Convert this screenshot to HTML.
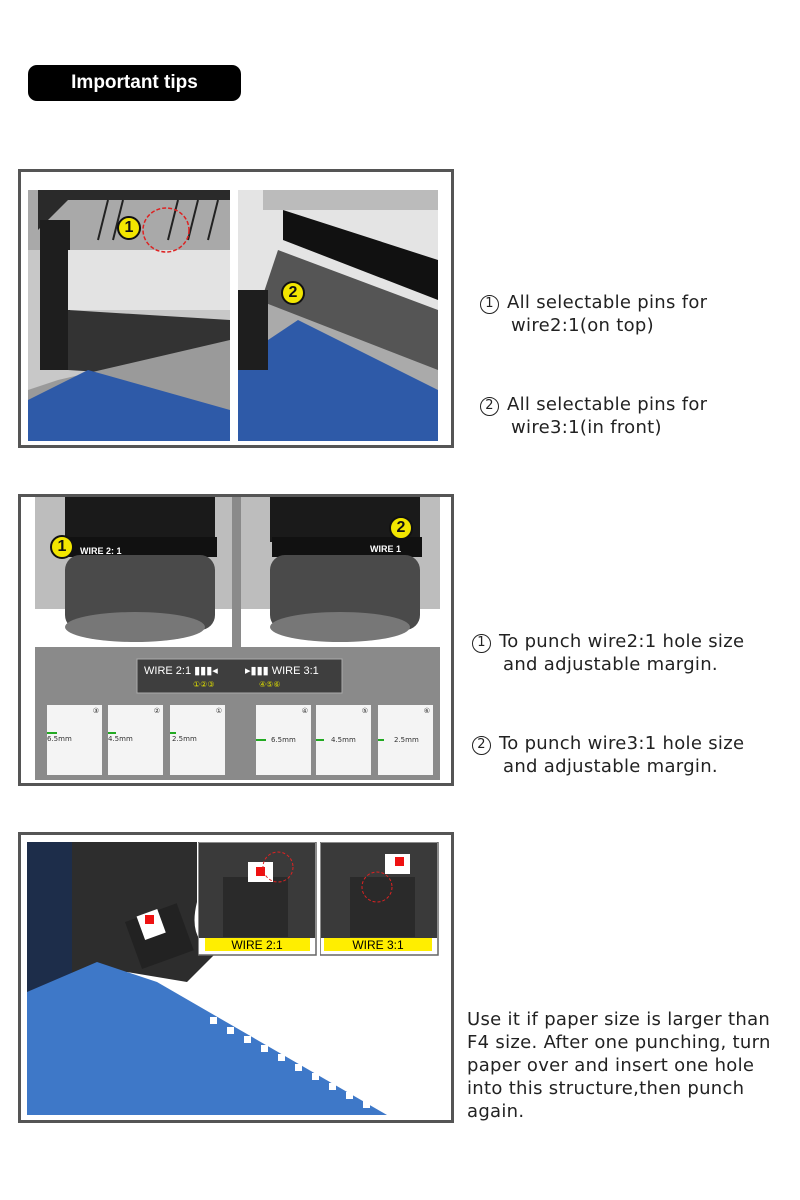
<!DOCTYPE html>
<html><head><meta charset="utf-8"><style>
*{margin:0;padding:0;box-sizing:border-box}
body{width:800px;height:1200px;background:#fff;position:relative;overflow:hidden;font-family:"DejaVu Sans","Liberation Sans",sans-serif}
.a{position:absolute}
.frame{position:absolute;border:3px solid #555;background:#fff}
.txt{position:absolute;font-size:18px;color:#222;line-height:23px;letter-spacing:0.3px;white-space:nowrap}
.num{display:inline-block;width:19px;height:19px;border:1.5px solid #222;border-radius:50%;font-size:13px;line-height:16px;text-align:center;margin-right:8px;vertical-align:1px}
.badge{position:absolute;width:24px;height:24px;border-radius:50%;background:#f2e600;border:2px solid #111;font:bold 16px "Liberation Sans",sans-serif;text-align:center;line-height:20px;color:#111}
.card{position:absolute;background:#f4f4f4;width:55px;height:70px;top:705px;font-size:7px;color:#333}
</style></head><body>

<div class="a" style="left:28px;top:65px;width:213px;height:36px;background:#000;border-radius:9px;color:#fff;font:bold 19px 'Liberation Sans',sans-serif;text-align:center;line-height:36px">Important tips</div>

<!-- Box 1 -->
<div class="frame" style="left:18px;top:169px;width:436px;height:279px"></div>
<svg class="a" style="left:28px;top:190px" width="202" height="251">
<rect width="202" height="251" fill="#c8c8c8"/>
<rect x="0" y="0" width="202" height="60" fill="#a9a9a9"/>
<path d="M10 40 L40 10 L202 10 L202 0 L10 0Z" fill="#2a2a2a"/>
<rect x="12" y="30" width="30" height="150" fill="#1e1e1e"/>
<rect x="40" y="60" width="162" height="60" fill="#e3e3e3"/>
<path d="M40 120 L202 130 L202 190 L40 180Z" fill="#333"/>
<path d="M30 190 L202 150 L202 251 L0 251 L0 200Z" fill="#9a9a9a"/>
<path d="M0 210 L60 180 L202 220 L202 251 L0 251Z" fill="#2e5aa8"/>
<g stroke="#222" stroke-width="2">
<line x1="80" y1="10" x2="70" y2="50"/><line x1="95" y1="10" x2="85" y2="50"/><line x1="150" y1="10" x2="140" y2="50"/><line x1="170" y1="10" x2="160" y2="50"/><line x1="190" y1="10" x2="180" y2="50"/></g>
<ellipse cx="138" cy="40" rx="23" ry="22" fill="none" stroke="#d22" stroke-width="1.5" stroke-dasharray="4 2"/>
</svg>
<div class="badge" style="left:117px;top:216px">1</div>
<svg class="a" style="left:238px;top:190px" width="200" height="251">
<rect width="200" height="251" fill="#e4e4e4"/>
<rect x="25" y="0" width="175" height="20" fill="#bbb"/>
<path d="M45 20 L200 70 L200 110 L45 50Z" fill="#111"/>
<path d="M40 60 L200 120 L200 200 L20 120Z" fill="#555"/>
<path d="M20 110 L200 180 L200 251 L0 251 L0 150Z" fill="#aaa"/>
<path d="M0 170 L60 130 L200 200 L200 251 L0 251Z" fill="#2e5aa8"/>
<rect x="0" y="100" width="30" height="80" fill="#1e1e1e"/>
</svg>
<div class="badge" style="left:281px;top:281px">2</div>

<div class="txt" style="left:480px;top:291px"><span class="num">1</span>All selectable pins for<br><span style="padding-left:31px">wire2:1(on top)</span></div>
<div class="txt" style="left:480px;top:393px"><span class="num">2</span>All selectable pins for<br><span style="padding-left:31px">wire3:1(in front)</span></div>

<!-- Box 2 -->
<div class="frame" style="left:18px;top:494px;width:436px;height:292px"></div>
<svg class="a" style="left:35px;top:497px" width="405" height="283">
<rect width="405" height="283" fill="#8a8a8a"/>
<rect x="0" y="0" width="197" height="150" fill="#fff"/>
<rect x="0" y="0" width="197" height="112" fill="#bdbdbd"/>
<rect x="206" y="0" width="199" height="150" fill="#fff"/>
<rect x="206" y="0" width="199" height="112" fill="#bdbdbd"/>
<rect x="30" y="0" width="150" height="45" fill="#1a1a1a"/>
<rect x="32" y="40" width="150" height="20" fill="#111"/>
<rect x="30" y="58" width="150" height="75" rx="15" fill="#4a4a4a"/>
<ellipse cx="100" cy="130" rx="70" ry="15" fill="#777"/>
<rect x="235" y="0" width="150" height="45" fill="#1a1a1a"/>
<rect x="237" y="40" width="150" height="20" fill="#111"/>
<rect x="235" y="58" width="150" height="75" rx="15" fill="#4a4a4a"/>
<ellipse cx="305" cy="130" rx="70" ry="15" fill="#777"/>
<text x="45" y="57" fill="#fff" font-size="9" font-family="Liberation Sans" font-weight="bold">WIRE 2:  1</text>
<text x="335" y="55" fill="#fff" font-size="9" font-family="Liberation Sans" font-weight="bold">WIRE 1</text>
<rect x="102" y="162" width="205" height="34" fill="#3e3e3e" stroke="#aaa"/>
<text x="109" y="177" fill="#fff" font-size="11" font-family="Liberation Sans">WIRE 2:1 ▮▮▮◂</text>
<text x="210" y="177" fill="#fff" font-size="11" font-family="Liberation Sans">▸▮▮▮ WIRE 3:1</text>
<text x="158" y="190" fill="#dd0" font-size="8">①②③</text>
<text x="224" y="190" fill="#dd0" font-size="8">④⑤⑥</text>
</svg>
<div class="card" style="left:47px">
<div class="a" style="left:0;top:27px;width:10px;height:2px;background:#2a2"></div><div class="a" style="top:30px;left:0">6.5mm</div><div class="a" style="right:3px;top:2px">③</div></div>
<div class="card" style="left:108px">
<div class="a" style="left:0;top:27px;width:8px;height:2px;background:#2a2"></div><div class="a" style="top:30px;left:0">4.5mm</div><div class="a" style="right:3px;top:2px">②</div></div>
<div class="card" style="left:170px">
<div class="a" style="left:0;top:27px;width:6px;height:2px;background:#2a2"></div><div class="a" style="top:30px;left:2px">2.5mm</div><div class="a" style="right:3px;top:2px">①</div></div>
<div class="card" style="left:256px">
<div class="a" style="left:0;top:34px;width:10px;height:2px;background:#2a2"></div><div class="a" style="top:31px;left:15px">6.5mm</div><div class="a" style="right:3px;top:2px">④</div></div>
<div class="card" style="left:316px">
<div class="a" style="left:0;top:34px;width:8px;height:2px;background:#2a2"></div><div class="a" style="top:31px;left:15px">4.5mm</div><div class="a" style="right:3px;top:2px">⑤</div></div>
<div class="card" style="left:378px">
<div class="a" style="left:0;top:34px;width:6px;height:2px;background:#2a2"></div><div class="a" style="top:31px;left:16px">2.5mm</div><div class="a" style="right:3px;top:2px">⑥</div></div>
<div class="badge" style="left:50px;top:535px">1</div>
<div class="badge" style="left:389px;top:516px">2</div>

<div class="txt" style="left:472px;top:630px"><span class="num">1</span>To punch wire2:1 hole size<br><span style="padding-left:31px">and adjustable margin.</span></div>
<div class="txt" style="left:472px;top:732px"><span class="num">2</span>To punch wire3:1 hole size<br><span style="padding-left:31px">and adjustable margin.</span></div>

<!-- Box 3 -->
<div class="frame" style="left:18px;top:832px;width:436px;height:291px"></div>
<svg class="a" style="left:27px;top:842px" width="413" height="273">
<rect width="413" height="273" fill="#fff"/>
<path d="M0 0 L170 0 L170 60 Q160 100 190 110 L160 140 L100 130 L0 150Z" fill="#2d2d2d"/>
<rect x="0" y="0" width="45" height="160" fill="#1d2d4a"/>
<path d="M0 150 L70 120 L130 140 L360 273 L0 273Z" fill="#3e78c8"/>
<rect x="105" y="70" width="55" height="50" fill="#222" transform="rotate(-20 130 95)"/>
<rect x="113" y="70" width="22" height="25" fill="#fff" transform="rotate(-20 124 82)"/>
<rect x="118" y="73" width="9" height="9" fill="#e11"/>
<g fill="#fff">
<rect x="183" y="175" width="7" height="7"/><rect x="200" y="185" width="7" height="7"/><rect x="217" y="194" width="7" height="7"/><rect x="234" y="203" width="7" height="7"/><rect x="251" y="212" width="7" height="7"/><rect x="268" y="222" width="7" height="7"/><rect x="285" y="231" width="7" height="7"/><rect x="302" y="241" width="7" height="7"/><rect x="319" y="250" width="7" height="7"/><rect x="336" y="259" width="7" height="7"/></g>
</svg>
<svg class="a" style="left:198px;top:842px" width="120" height="115">
<rect width="118" height="113" fill="#fff" stroke="#666" stroke-width="1.5"/>
<rect x="1" y="1" width="116" height="95" fill="#3a3a3a"/>
<rect x="25" y="35" width="65" height="60" fill="#2a2a2a"/>
<rect x="50" y="20" width="25" height="20" fill="#fff"/><rect x="58" y="25" width="9" height="9" fill="#e11"/>
<circle cx="80" cy="25" r="15" fill="none" stroke="#d22" stroke-dasharray="3 2"/>
<rect x="7" y="96" width="105" height="13" fill="#ffee00"/>
<text x="59" y="107" text-anchor="middle" font-size="12" font-family="Liberation Sans">WIRE 2:1</text>
</svg>
<svg class="a" style="left:320px;top:842px" width="120" height="115">
<rect width="118" height="113" fill="#fff" stroke="#666" stroke-width="1.5"/>
<rect x="1" y="1" width="116" height="95" fill="#3a3a3a"/>
<rect x="30" y="35" width="65" height="60" fill="#2a2a2a"/>
<rect x="65" y="12" width="25" height="20" fill="#fff"/><rect x="75" y="15" width="9" height="9" fill="#e11"/>
<circle cx="57" cy="45" r="15" fill="none" stroke="#d22" stroke-dasharray="3 2"/>
<rect x="4" y="96" width="108" height="13" fill="#ffee00"/>
<text x="58" y="107" text-anchor="middle" font-size="12" font-family="Liberation Sans">WIRE 3:1</text>
</svg>

<div class="txt" style="left:467px;top:1008px">Use it if paper size is larger than<br>F4 size. After one punching, turn<br>paper over and insert one hole<br>into this structure,then punch<br>again.</div>
</body></html>
